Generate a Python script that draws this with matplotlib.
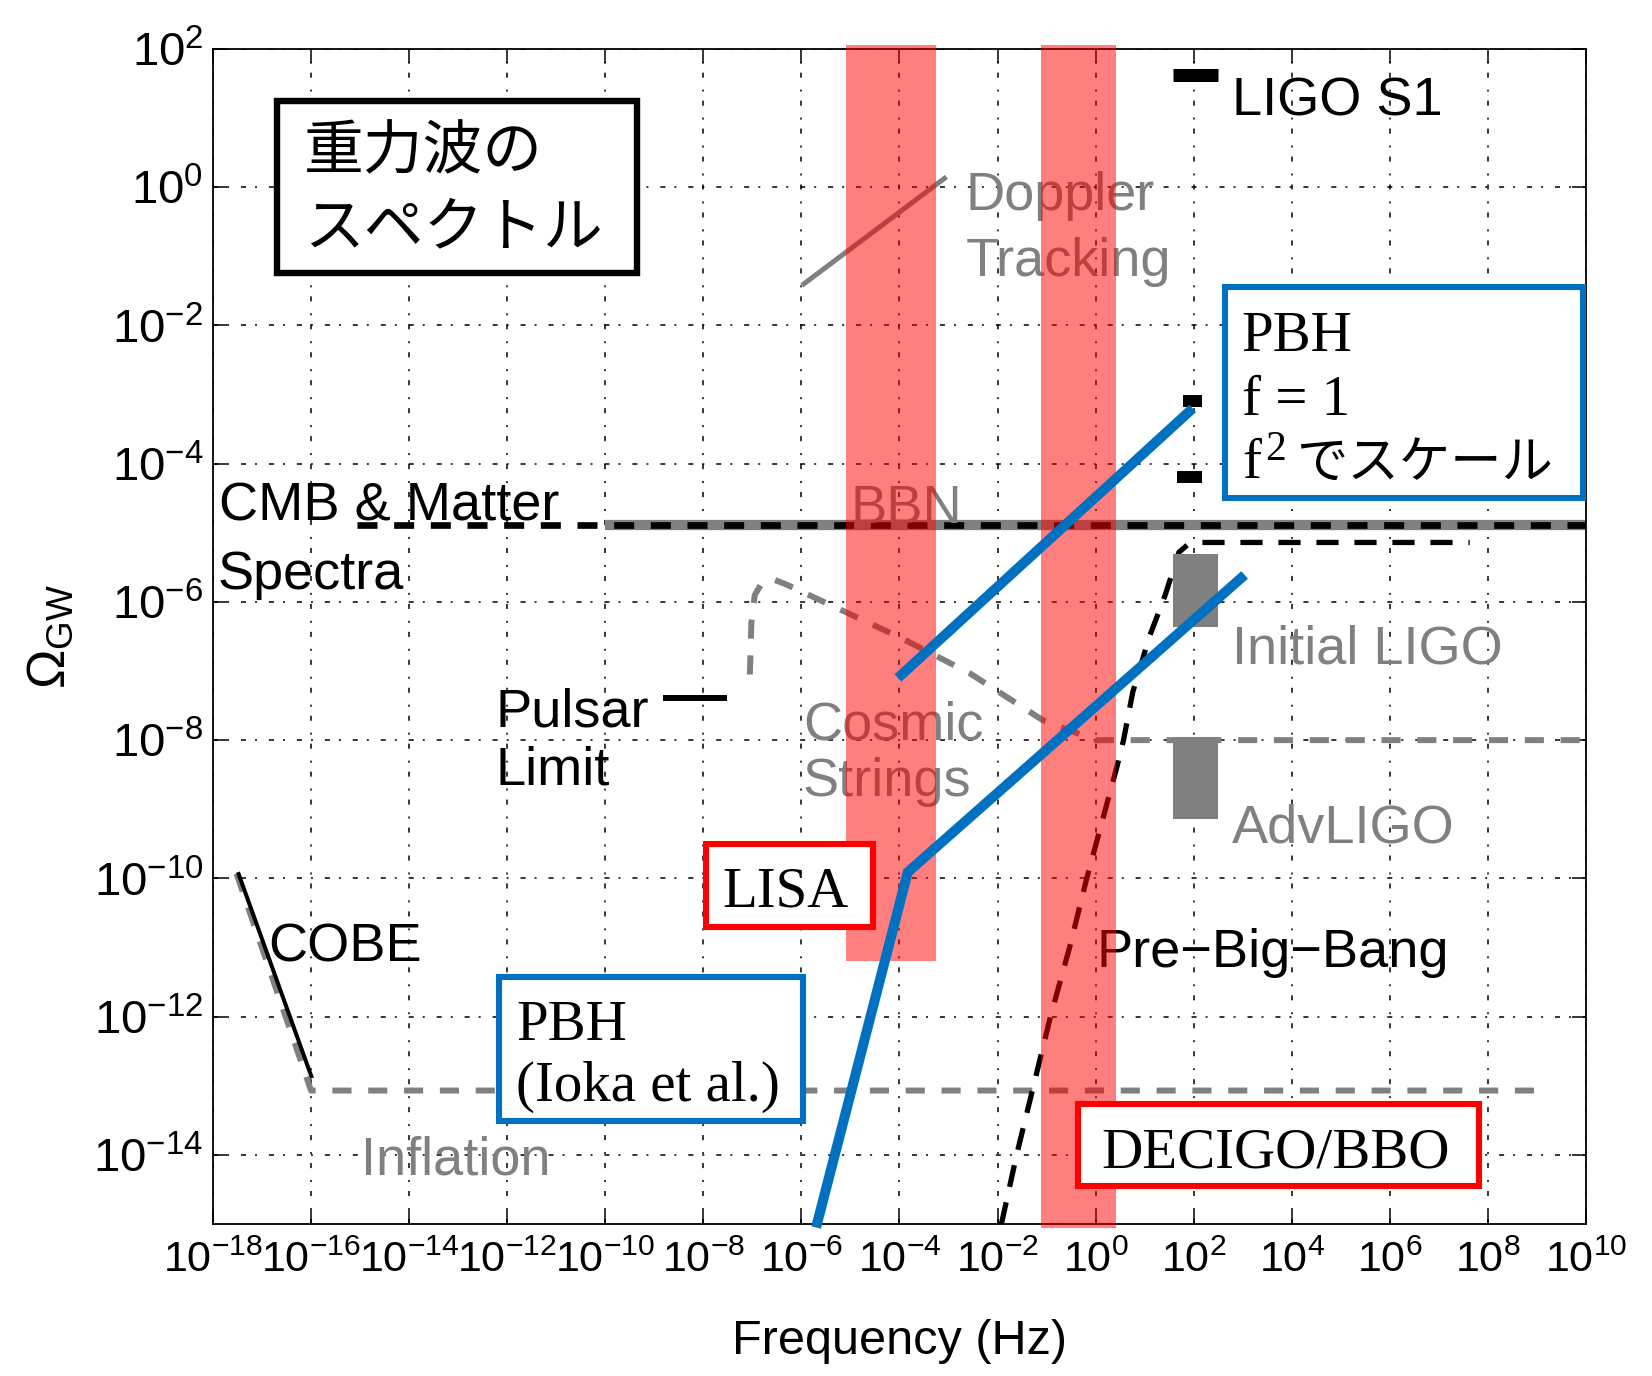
import numpy as np
import matplotlib
matplotlib.use("Agg")
import matplotlib.pyplot as plt
from matplotlib import font_manager
from matplotlib.patches import Rectangle
from matplotlib.ticker import NullLocator

# Tick labels use a condensed face when one is installed.
_installed = {f.name for f in font_manager.fontManager.ttflist}
if "Liberation Sans Narrow" in _installed:
    TICK_FONT, XTICK_SIZE, YTICK_SIZE = "Liberation Sans Narrow", 36, 37
else:
    TICK_FONT, XTICK_SIZE, YTICK_SIZE = "Liberation Sans", 31, 34

plt.rcParams.update({
    "font.family": ["Liberation Sans", "DejaVu Sans"],
    "mathtext.fontset": "custom",
    "mathtext.rm": TICK_FONT,
    "mathtext.it": TICK_FONT + ":italic",
    "mathtext.bf": TICK_FONT + ":bold",
    "axes.unicode_minus": True,
})

# ---------------- data: log10(frequency / Hz) and log10(Omega_GW) ----------------
x_tick_exp = list(range(-18, 11, 2))
y_tick_exp = list(range(-14, 3, 2))

# Pre-Big-Bang model
pbb_logf = [-1.92, -1.61, -0.92, -0.53, -0.18, 0.43, 0.57, 0.76, 1.10, 1.42, 1.70, 1.90, 2.15, 7.63]
pbb_logo = [-15.0, -14.0, -12.0, -11.0, -10.0, -8.4, -8.0, -7.3, -6.5, -5.9, -5.28, -5.16, -5.14, -5.14]

# Cosmic strings
cs_logf = [-7.05, -7.02, -6.95, -6.80, -6.55, -6.30, -4.00, -2.57, -1.08, 0.00, 10.0]
cs_logo = [-7.05, -6.30, -5.90, -5.72, -5.68, -5.75, -6.51, -7.03, -7.71, -8.00, -8.00]

# Slow-roll inflation, starting from the COBE bound
infl_logf = [-17.52, -16.0, 9.0]
infl_logo = [-9.93, -13.07, -13.07]

# COBE bound
cobe_logf = [-17.49, -15.98]
cobe_logo = [-9.91, -12.89]

# CMB & matter spectra bound and BBN bound
cmb_logf = [-15.06, 10.0]
cmb_logo = -4.88
bbn_logf = [-10.0, 10.0]
bbn_logo = -4.88

# Doppler tracking
dop_logf = [-5.99, -3.04]
dop_logo = [-1.42, 0.15]

# Pulsar timing limit
psr_logf = [-8.83, -7.52]
psr_logo = -7.39

# LIGO S1 limit and later limits around 100 Hz
ligo_s1_logf = [1.57, 2.49]
ligo_s1_logo = 1.63
ligo_lim_logf = [[1.78, 2.18], [1.67, 2.18]]
ligo_lim_logo = [-3.09, -4.19]

# Detector sensitivity boxes
init_ligo_logf = [1.57, 2.49]
init_ligo_logo = [-6.36, -5.31]
adv_ligo_logf = [1.57, 2.49]
adv_ligo_logo = [-9.14, -7.95]

# Frequency bands of LISA and DECIGO/BBO
lisa_band_logf = [-5.08, -3.25]
lisa_band_logo = [-11.2, 2.06]
decigo_band_logf = [-1.11, 0.42]
decigo_band_logo = [-15.06, 2.06]

# Primordial black hole spectra
pbh_f1_logf = [-4.03, 1.98]
pbh_f1_logo = [-7.10, -3.20]
pbh_ioka_logf = [-5.70, -3.83, 3.04]
pbh_ioka_logo = [-15.05, -9.91, -5.61]


def L(v):
    return 10.0 ** np.asarray(v, dtype=float)


GRAY = "#808080"
BLUE = "#0070C0"
RED = "#FF0000"

fig = plt.figure(figsize=(16.52, 13.76), dpi=100, facecolor="white")
ax = fig.add_axes([0.1289, 0.1105, 0.8311, 0.8539])
ax.set_xscale("log")
ax.set_yscale("log")
ax.set_xlim(1e-18, 1e10)
ax.set_ylim(1e-15, 1e2)

ax.set_xticks(L(x_tick_exp))
ax.set_xticklabels([f"$10^{{{e}}}$" for e in x_tick_exp])
ax.set_yticks(L(y_tick_exp))
ax.set_yticklabels([f"$10^{{{e}}}$" for e in y_tick_exp])
ax.xaxis.set_minor_locator(NullLocator())
ax.yaxis.set_minor_locator(NullLocator())
ax.tick_params(which="major", direction="in", length=10, width=1.1,
               top=True, right=True)
ax.tick_params(axis="x", pad=12, labelsize=XTICK_SIZE)
ax.tick_params(axis="y", pad=7, labelsize=YTICK_SIZE)
for s in ax.spines.values():
    s.set_linewidth(1.3)

ax.set_axisbelow(True)
ax.grid(True, which="major", color="black", lw=1.1,
        linestyle=(0, (3.3, 5.9, 1.3, 7.8)))

ax.set_xlabel("Frequency (Hz)", fontsize=35)
ax.xaxis.set_label_coords(0.5, -0.081)
ax.set_ylabel(r"$\Omega_{\rm GW}$", fontsize=38)
ax.yaxis.set_label_coords(-0.0998, 0.5)

# ---- bounds and model spectra ----
ax.plot(L(bbn_logf), L([bbn_logo] * 2), color=GRAY, lw=7.4,
        solid_capstyle="butt", zorder=2)
ax.plot(L(cmb_logf), L([cmb_logo] * 2), color="black", lw=4.8,
        ls=(0, (3.0, 2.5)), dash_capstyle="butt", zorder=2.2)

ax.plot(L(infl_logf), L(infl_logo), color=GRAY, lw=4.3,
        ls=(0, (3.2, 2.8)), dash_capstyle="butt", zorder=2)
ax.plot(L(cobe_logf), L(cobe_logo), color="black", lw=2.9,
        solid_capstyle="butt", zorder=2.3)

ax.plot(L(cs_logf), L(cs_logo), color=GRAY, lw=4.3,
        ls=(0, (3.2, 2.8)), dash_capstyle="butt", zorder=2)
ax.plot(L(pbb_logf), L(pbb_logo), color="black", lw=3.8,
        ls=(0, (4.2, 3.0)), dash_capstyle="butt", zorder=2.2, clip_on=False)

ax.plot(L(dop_logf), L(dop_logo), color=GRAY, lw=3.6,
        solid_capstyle="butt", zorder=2)
ax.plot(L(psr_logf), L([psr_logo] * 2), color="black", lw=4.3,
        solid_capstyle="butt", zorder=2)

ax.plot(L(ligo_s1_logf), L([ligo_s1_logo] * 2), color="black", lw=9.4,
        solid_capstyle="butt", zorder=2.4)
for lf, lo in zip(ligo_lim_logf, ligo_lim_logo):
    ax.plot(L(lf), L([lo] * 2), color="black", lw=8.6,
            solid_capstyle="butt", zorder=2.4)

ax.fill_between(L(init_ligo_logf), L(init_ligo_logo[0]), L(init_ligo_logo[1]),
                color=GRAY, lw=0, zorder=2.5)
ax.fill_between(L(adv_ligo_logf), L(adv_ligo_logo[0]), L(adv_ligo_logo[1]),
                color=GRAY, lw=0, zorder=2.5)

# ---- curve labels ----
def label(x, y, s, color="black"):
    ax.text(x, y, s, transform=ax.transAxes, color=color, fontsize=39,
            ha="left", va="baseline", zorder=3)


label(0.742, 0.943, "LIGO S1")
label(0.548, 0.863, "Doppler", GRAY)
label(0.548, 0.807, "Tracking", GRAY)
label(0.4647, 0.5966, "BBN", GRAY)
label(0.0044, 0.5983, "CMB & Matter")
label(0.0036, 0.5404, "Spectra")
label(0.2061, 0.4238, "Pulsar")
label(0.2061, 0.3736, "Limit")
label(0.0401, 0.2230, "COBE")
label(0.4297, 0.4119, "Cosmic", GRAY)
label(0.4297, 0.3643, "Strings", GRAY)
label(0.7422, 0.4766, "Initial LIGO", GRAY)
label(0.7422, 0.3243, "AdvLIGO", GRAY)
label(0.6438, 0.2187, "Pre\u2212Big\u2212Bang")
label(0.1078, 0.0417, "Inflation", GRAY)

# ---- detector bands (translucent) ----
for bf, bo in ((lisa_band_logf, lisa_band_logo), (decigo_band_logf, decigo_band_logo)):
    band = ax.fill_between(L(bf), L(bo[0]), L(bo[1]), color="red", alpha=0.5,
                           lw=0, zorder=5)
    band.set_clip_on(False)

# ---- PBH spectra ----
ax.plot(L(pbh_f1_logf), L(pbh_f1_logo), color=BLUE, lw=7.2,
        solid_capstyle="butt", zorder=6)
ax.plot(L(pbh_ioka_logf), L(pbh_ioka_logo), color=BLUE, lw=7.2,
        solid_capstyle="butt", solid_joinstyle="miter", zorder=6, clip_on=False)

# ---- framed annotations ----
SERIF = ["Liberation Serif", "Noto Sans CJK JP"]


def box(x0, y0, x1, y1, color, lw=4.4):
    ax.add_patch(Rectangle((x0, y0), x1 - x0, y1 - y0, transform=ax.transAxes,
                           facecolor="white", edgecolor=color, lw=lw,
                           joinstyle="miter", zorder=7, clip_on=False))


def boxtext(x, y, s, ha="left", va="baseline", size=41, family=SERIF):
    ax.text(x, y, s, transform=ax.transAxes, fontsize=size, ha=ha, va=va,
            family=family, color="black", zorder=8)


box(0.0466, 0.8094, 0.3088, 0.9557, "black", lw=4.6)
boxtext(0.0663, 0.9115, "重力波の", va="center", size=43, family=["Noto Sans CJK JP"])
boxtext(0.0663, 0.8468, "スペクトル", va="center", size=43, family=["Noto Sans CJK JP"])

box(0.7370, 0.6179, 0.9978, 0.7974, BLUE)
boxtext(0.7494, 0.7430, "PBH")
boxtext(0.7494, 0.6885, "f = 1")
boxtext(0.7494, 0.6349, "f")
boxtext(0.7665, 0.6500, "2", size=30)
boxtext(0.7895, 0.6349, "でスケール", size=37)

box(0.3591, 0.2528, 0.4807, 0.3234, RED)
boxtext(0.4173, 0.2698, "LISA", ha="center")

box(0.2083, 0.0877, 0.4297, 0.2102, BLUE)
boxtext(0.2207, 0.1566, "PBH")
boxtext(0.2207, 0.1047, "(Ioka et al.)")

box(0.6300, 0.0323, 0.9221, 0.1021, RED)
boxtext(0.7742, 0.0477, "DECIGO/BBO", ha="center")

fig.savefig("out.png", dpi=100, facecolor="white")
